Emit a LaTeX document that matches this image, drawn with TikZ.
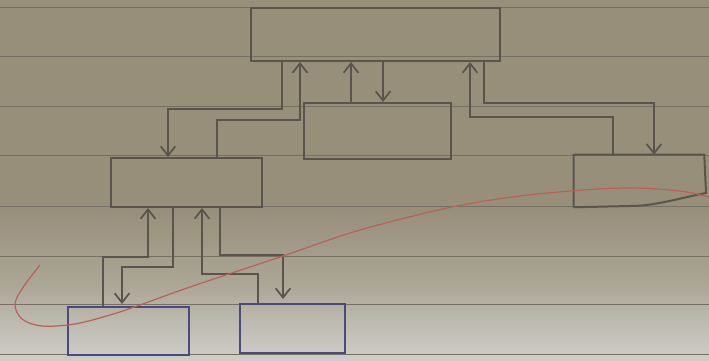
\documentclass[tikz,border=0pt]{standalone}
\usetikzlibrary{arrows.meta,fit}
\definecolor{papertop}{RGB}{152,143,123}
\definecolor{papermid}{RGB}{172,166,150}
\definecolor{paperbot}{RGB}{206,206,201}
\definecolor{rule}{RGB}{118,112,100}
\definecolor{ink}{RGB}{90,84,76}
\definecolor{blueink}{RGB}{74,74,128}
\definecolor{redink}{RGB}{186,96,88}
\tikzset{
  box/.style={draw=ink, line width=1.5pt, inner sep=0pt},
  bluebox/.style={draw=blueink, line width=1.5pt, inner sep=0pt},
  conn/.style={draw=ink, line width=1.4pt, -{Straight Barb[length=7pt,width=11pt,line width=1.3pt]}},
  ruling/.style={draw=rule, line width=0.7pt}
}
\begin{document}
\begin{tikzpicture}[x=0.75pt,y=-0.75pt]
\useasboundingbox (0,0) rectangle (709,360);
% paper
\fill[papertop] (0,0) rectangle (709,210);
\shade[top color=papertop, bottom color=paperbot, middle color=papermid] (0,209.5) rectangle (709,360);
\foreach \yy in {7,56,106,155,206,256,304,354} \draw[ruling] (0,\yy) -- (709,\yy);
% boxes
\node[box, fit={(251,8) (500,61)}] (A) {};
\node[box, fit={(304,103) (451,159)}] (B) {};
\node[box, fit={(111,158) (262,207)}] (D) {};
\node[fit={(574,155) (704,207)}, inner sep=0pt] (C) {};
\draw[box] (C.south west) -- (C.north west) -- (C.north east) -- (706,193)
  .. controls (680,198) and (655,206) .. (630,206) -- (C.south west);
\node[bluebox, fit={(68,307) (189,355)}] (E) {};
\node[bluebox, fit={(240,304) (345,353)}] (F) {};
% A <-> D
\draw[conn] (282,0 |- A.south) -- (282,109) -- (168,109) -- (168,0 |- D.north);
\draw[conn] (217,0 |- D.north) -- (217,120) -- (300,120) -- (300,0 |- A.south);
% A <-> B
\draw[conn] (351,0 |- B.north) -- (351,0 |- A.south);
\draw[conn] (383,0 |- A.south) -- (383,0 |- B.north);
% A <-> C
\draw[conn] (613,0 |- C.north) -- (613,117) -- (470,117) -- (470,0 |- A.south);
\draw[conn] (484,0 |- A.south) -- (484,103) -- (654,103) -- (654,0 |- C.north);
% D <-> E
\draw[conn] (103,0 |- E.north) -- (103,257) -- (148,257) -- (148,0 |- D.south);
\draw[conn] (173,0 |- D.south) -- (173,267) -- (122,267) -- (122,304);
% D <-> F
\draw[conn] (258,0 |- F.north) -- (258,274) -- (202,274) -- (202,0 |- D.south);
\draw[conn] (220,0 |- D.south) -- (220,255) -- (283,255) -- (283,299);
% red curve
\draw[redink, line width=0.9pt] plot[smooth, tension=0.55] coordinates
  {(40,265) (24,286) (15,304) (22,319) (42,326) (75,324) (110,315) (140,305) (190,287) (280,257) (360,230) (452,207) (520,196) (583,190) (633,188) (680,191) (709,197)};
\end{tikzpicture}
\end{document}
